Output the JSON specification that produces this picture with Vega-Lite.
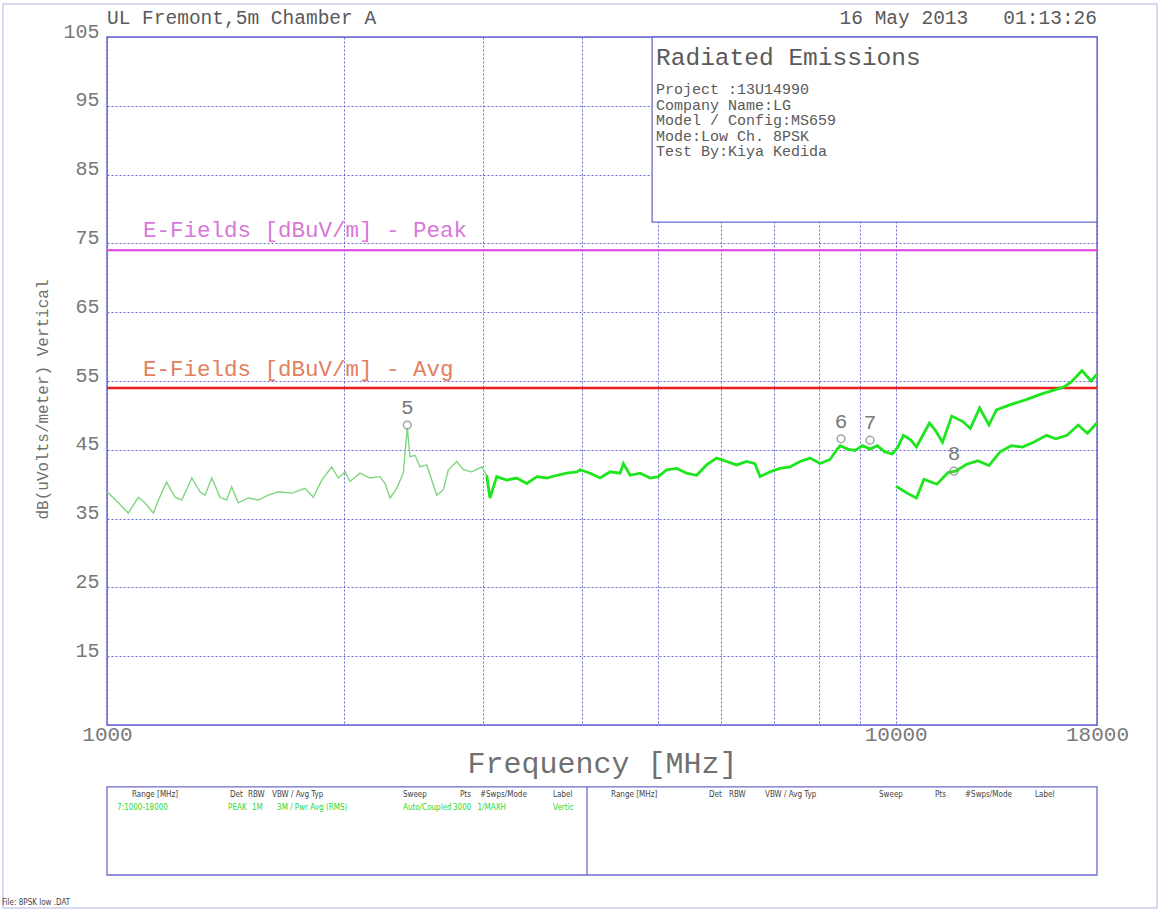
{
  "$schema": "https://vega.github.io/schema/vega-lite/v6.json",
  "autosize": {"type": "none"},
  "padding": {"left": 107, "top": 37, "right": 63, "bottom": 186},
  "width": 990,
  "height": 688,
  "background": "white",
  "data": {"values": [{}]},
  "config": {
    "view": {"stroke": "#6a6ad0", "strokeWidth": 1.5},
    "font": "Liberation Mono",
    "axis": {
      "gridColor": "#5a5ad6", "gridDash": [2, 2], "gridWidth": 1, "gridOpacity": 0.9,
      "ticks": false, "domain": false,
      "labelFont": "Liberation Mono", "titleFont": "Liberation Mono",
      "labelColor": "#787878", "titleColor": "#707070", "titleFontWeight": "normal"
    }
  },
  "datasets": {
    "trace": [
      {"f": 1000, "v": 38.9, "s": "a"}, {"f": 1034, "v": 37.3, "s": "a"}, {"f": 1064, "v": 35.8, "s": "a"},
      {"f": 1096, "v": 38.1, "s": "a"}, {"f": 1117, "v": 37.3, "s": "a"}, {"f": 1145, "v": 35.8, "s": "a"},
      {"f": 1162, "v": 37.7, "s": "a"}, {"f": 1190, "v": 40.3, "s": "a"}, {"f": 1220, "v": 38.1, "s": "a"},
      {"f": 1244, "v": 37.7, "s": "a"}, {"f": 1281, "v": 40.9, "s": "a"}, {"f": 1312, "v": 38.9, "s": "a"},
      {"f": 1331, "v": 38.4, "s": "a"}, {"f": 1358, "v": 40.9, "s": "a"}, {"f": 1391, "v": 38.1, "s": "a"},
      {"f": 1418, "v": 37.7, "s": "a"}, {"f": 1439, "v": 39.6, "s": "a"}, {"f": 1467, "v": 37.3, "s": "a"},
      {"f": 1511, "v": 38.0, "s": "a"}, {"f": 1555, "v": 37.7, "s": "a"}, {"f": 1602, "v": 38.4, "s": "a"},
      {"f": 1649, "v": 38.9, "s": "a"}, {"f": 1715, "v": 38.7, "s": "a"}, {"f": 1783, "v": 39.4, "s": "a"},
      {"f": 1826, "v": 38.1, "s": "a"}, {"f": 1872, "v": 40.6, "s": "a"}, {"f": 1927, "v": 42.5, "s": "a"},
      {"f": 1965, "v": 40.9, "s": "a"}, {"f": 2004, "v": 41.8, "s": "a"}, {"f": 2033, "v": 40.4, "s": "a"},
      {"f": 2093, "v": 41.6, "s": "a"}, {"f": 2155, "v": 40.9, "s": "a"}, {"f": 2219, "v": 41.1, "s": "a"},
      {"f": 2252, "v": 40.1, "s": "a"}, {"f": 2285, "v": 38.0, "s": "a"}, {"f": 2330, "v": 39.4, "s": "a"},
      {"f": 2375, "v": 41.6, "s": "a"}, {"f": 2403, "v": 48.2, "s": "a"}, {"f": 2422, "v": 44.0, "s": "a"},
      {"f": 2458, "v": 44.2, "s": "a"}, {"f": 2494, "v": 42.5, "s": "a"}, {"f": 2543, "v": 42.8, "s": "a"},
      {"f": 2581, "v": 40.6, "s": "a"}, {"f": 2619, "v": 38.4, "s": "a"}, {"f": 2670, "v": 39.2, "s": "a"},
      {"f": 2709, "v": 42.1, "s": "a"}, {"f": 2776, "v": 43.3, "s": "a"}, {"f": 2830, "v": 42.1, "s": "a"},
      {"f": 2900, "v": 41.8, "s": "a"}, {"f": 2986, "v": 42.5, "s": "a"}, {"f": 3030, "v": 41.3, "s": "a"},
      {"f": 3030, "v": 41.3, "s": "b"}, {"f": 3059, "v": 38.0, "s": "b"}, {"f": 3120, "v": 41.1, "s": "b"},
      {"f": 3212, "v": 40.6, "s": "b"}, {"f": 3307, "v": 40.9, "s": "b"}, {"f": 3407, "v": 40.1, "s": "b"},
      {"f": 3508, "v": 41.1, "s": "b"}, {"f": 3611, "v": 40.9, "s": "b"}, {"f": 3718, "v": 41.3, "s": "b"},
      {"f": 3828, "v": 41.6, "s": "b"}, {"f": 3942, "v": 41.8, "s": "b"}, {"f": 3980, "v": 42.1, "s": "b"},
      {"f": 4098, "v": 41.6, "s": "b"}, {"f": 4219, "v": 40.9, "s": "b"}, {"f": 4344, "v": 41.8, "s": "b"},
      {"f": 4473, "v": 41.6, "s": "b"}, {"f": 4516, "v": 43.0, "s": "b"}, {"f": 4606, "v": 41.3, "s": "b"},
      {"f": 4742, "v": 41.6, "s": "b"}, {"f": 4882, "v": 40.9, "s": "b"}, {"f": 5002, "v": 41.1, "s": "b"},
      {"f": 5124, "v": 42.1, "s": "b"}, {"f": 5276, "v": 42.3, "s": "b"}, {"f": 5432, "v": 41.6, "s": "b"},
      {"f": 5593, "v": 41.3, "s": "b"}, {"f": 5758, "v": 42.8, "s": "b"}, {"f": 5929, "v": 43.8, "s": "b"},
      {"f": 6105, "v": 43.3, "s": "b"}, {"f": 6286, "v": 42.8, "s": "b"}, {"f": 6472, "v": 43.3, "s": "b"},
      {"f": 6630, "v": 43.0, "s": "b"}, {"f": 6730, "v": 41.1, "s": "b"}, {"f": 6929, "v": 41.8, "s": "b"},
      {"f": 7135, "v": 42.3, "s": "b"}, {"f": 7346, "v": 42.5, "s": "b"}, {"f": 7564, "v": 43.3, "s": "b"},
      {"f": 7788, "v": 43.8, "s": "b"}, {"f": 8018, "v": 43.0, "s": "b"}, {"f": 8256, "v": 43.6, "s": "b"},
      {"f": 8419, "v": 45.0, "s": "b"}, {"f": 8504, "v": 45.6, "s": "b"}, {"f": 8692, "v": 45.1, "s": "b"},
      {"f": 8882, "v": 44.9, "s": "b"}, {"f": 9078, "v": 45.6, "s": "b"}, {"f": 9279, "v": 45.1, "s": "b"},
      {"f": 9481, "v": 45.6, "s": "b"}, {"f": 9688, "v": 44.7, "s": "b"}, {"f": 9903, "v": 44.4, "s": "b"},
      {"f": 10063, "v": 45.4, "s": "b"}, {"f": 10229, "v": 47.1, "s": "b"}, {"f": 10455, "v": 46.4, "s": "b"},
      {"f": 10624, "v": 45.4, "s": "b"}, {"f": 10800, "v": 46.9, "s": "b"}, {"f": 11036, "v": 48.9, "s": "b"},
      {"f": 11217, "v": 47.9, "s": "b"}, {"f": 11466, "v": 46.1, "s": "b"}, {"f": 11779, "v": 49.9, "s": "b"},
      {"f": 12170, "v": 49.1, "s": "b"}, {"f": 12436, "v": 48.1, "s": "b"}, {"f": 12777, "v": 51.1, "s": "b"},
      {"f": 13129, "v": 48.6, "s": "b"}, {"f": 13419, "v": 50.8, "s": "b"}, {"f": 14013, "v": 51.6, "s": "b"},
      {"f": 14636, "v": 52.3, "s": "b"}, {"f": 15288, "v": 53.1, "s": "b"}, {"f": 15792, "v": 53.6, "s": "b"},
      {"f": 16317, "v": 54.1, "s": "b"}, {"f": 16673, "v": 54.8, "s": "b"}, {"f": 17227, "v": 56.5, "s": "b"},
      {"f": 17697, "v": 55.0, "s": "b"}, {"f": 18000, "v": 56.0, "s": "b"},
      {"f": 10010, "v": 39.7, "s": "c"}, {"f": 10340, "v": 38.7, "s": "c"}, {"f": 10624, "v": 38.0, "s": "c"},
      {"f": 10860, "v": 40.7, "s": "c"}, {"f": 11279, "v": 40.0, "s": "c"}, {"f": 11652, "v": 41.7, "s": "c"},
      {"f": 11910, "v": 41.9, "s": "c"}, {"f": 12302, "v": 42.9, "s": "c"}, {"f": 12711, "v": 43.4, "s": "c"},
      {"f": 13129, "v": 42.7, "s": "c"}, {"f": 13565, "v": 44.7, "s": "c"}, {"f": 14013, "v": 45.6, "s": "c"},
      {"f": 14479, "v": 45.4, "s": "c"}, {"f": 14956, "v": 46.1, "s": "c"}, {"f": 15535, "v": 47.1, "s": "c"},
      {"f": 15964, "v": 46.6, "s": "c"}, {"f": 16494, "v": 47.1, "s": "c"}, {"f": 17037, "v": 48.6, "s": "c"},
      {"f": 17506, "v": 47.4, "s": "c"}, {"f": 18000, "v": 48.9, "s": "c"}
    ],
    "markers": [
      {"f": 2403, "v": 48.6, "n": "5"},
      {"f": 8524, "v": 46.6, "n": "6"},
      {"f": 9279, "v": 46.4, "n": "7"},
      {"f": 11858, "v": 41.9, "n": "8"}
    ]
  },
  "layer": [
    {
      "data": {"name": "trace"},
      "transform": [{"filter": "datum.s === 'a'"}],
      "mark": {"type": "line", "color": "#7fd67f", "strokeWidth": 1.4},
      "encoding": {
        "x": {
          "field": "f", "type": "quantitative",
          "scale": {"type": "log", "domain": [1000, 18000], "nice": false},
          "axis": {
            "values": [1000, 2000, 3000, 4000, 5000, 6000, 7000, 8000, 9000, 10000, 18000],
            "format": "d",
            "labelExpr": "(datum.value == 1000 || datum.value == 10000 || datum.value == 18000) ? datum.label : ''",
            "labelFontSize": 21, "labelBaseline": "top", "labelPadding": -2,
            "labelFlush": false, "labelOverlap": false,
            "title": "Frequency [MHz]", "titleFontSize": 30, "titlePadding": 4
          }
        },
        "y": {
          "field": "v", "type": "quantitative",
          "scale": {"domain": [5, 105], "nice": false, "zero": false},
          "axis": {
            "values": [5, 15, 25, 35, 45, 55, 65, 75, 85, 95, 105],
            "labelExpr": "datum.value == 5 ? '' : datum.label",
            "labelFontSize": 20, "labelBaseline": "alphabetic", "labelPadding": 8,
            "labelFlush": false, "labelOverlap": false,
            "title": "dB(uVolts/meter) Vertical", "titleFontSize": 16, "titlePadding": 12, "titleY": 362
          }
        }
      }
    },
    {
      "mark": {"type": "rect", "fill": null, "stroke": "#b4b4e6", "strokeWidth": 1},
      "encoding": {"x": {"datum": 738}, "x2": {"datum": 21449}, "y": {"datum": 109.8}, "y2": {"datum": -21.6}}
    },
    {
      "mark": {"type": "rect", "fill": "white", "stroke": "#6a6ad0", "strokeWidth": 1.3},
      "encoding": {"x": {"datum": 1000}, "x2": {"datum": 18000}, "y": {"datum": -4.0}, "y2": {"datum": -16.8}}
    },
    {
      "mark": {"type": "rule", "stroke": "#6a6ad0", "strokeWidth": 1.3},
      "encoding": {"x": {"datum": 4061}, "y": {"datum": -4.0}, "y2": {"datum": -16.8}}
    },
    {
      "mark": {"type": "rect", "fill": "white", "stroke": "#6a6ad0", "strokeWidth": 1.3},
      "encoding": {"x": {"datum": 4911}, "x2": {"datum": 18000}, "y": {"datum": 105}, "y2": {"datum": 78.1}}
    },
    {
      "mark": {"type": "rule", "stroke": "#e03ce0", "strokeWidth": 2},
      "encoding": {"y": {"datum": 74}}
    },
    {
      "mark": {"type": "rule", "stroke": "#ee1c1c", "strokeWidth": 2.5},
      "encoding": {"y": {"datum": 54}}
    },
    {
      "data": {"name": "trace"},
      "transform": [{"filter": "datum.s !== 'a'"}],
      "mark": {"type": "line", "color": "#1ee61e", "strokeWidth": 2.8},
      "encoding": {
        "x": {"field": "f", "type": "quantitative"},
        "y": {"field": "v", "type": "quantitative"},
        "detail": {"field": "s"}
      }
    },
    {
      "data": {"name": "markers"},
      "mark": {"type": "point", "shape": "circle", "filled": false, "stroke": "#808080", "strokeWidth": 1.5, "size": 60},
      "encoding": {"x": {"field": "f", "type": "quantitative"}, "y": {"field": "v", "type": "quantitative"}}
    },
    {
      "data": {"name": "markers"},
      "mark": {"type": "text", "font": "Liberation Mono", "fontSize": 21, "color": "#7a7a7a", "baseline": "middle", "dy": -17},
      "encoding": {"x": {"field": "f", "type": "quantitative"}, "y": {"field": "v", "type": "quantitative"}, "text": {"field": "n"}}
    },
    {
      "mark": {"type": "text", "align": "left", "baseline": "alphabetic", "fontSize": 22.5, "color": "#d878d8"},
      "encoding": {"x": {"datum": 1111}, "y": {"datum": 75.9}, "text": {"value": "E-Fields [dBuV/m] - Peak"}}
    },
    {
      "mark": {"type": "text", "align": "left", "baseline": "alphabetic", "fontSize": 22.5, "color": "#e2805e"},
      "encoding": {"x": {"datum": 1111}, "y": {"datum": 55.7}, "text": {"value": "E-Fields [dBuV/m] - Avg"}}
    },
    {
      "mark": {"type": "text", "align": "left", "baseline": "middle", "fontSize": 19.5, "color": "#5a5a5a"},
      "encoding": {"x": {"datum": 1000}, "y": {"datum": 107.76}, "text": {"value": "UL Fremont,5m Chamber A"}}
    },
    {
      "mark": {"type": "text", "align": "right", "baseline": "middle", "fontSize": 19.5, "color": "#5a5a5a"},
      "encoding": {"x": {"datum": 18000}, "y": {"datum": 107.76}, "text": {"value": "16 May 2013\u00a0\u00a0\u00a001:13:26"}}
    },
    {
      "mark": {"type": "text", "align": "left", "baseline": "middle", "fontSize": 24.5, "color": "#5a5a5a"},
      "encoding": {"x": {"datum": 4968}, "y": {"datum": 101.95}, "text": {"value": "Radiated Emissions"}}
    },
    {
      "mark": {"type": "text", "align": "left", "baseline": "top", "fontSize": 15, "lineHeight": 15.5, "lineBreak": "\n", "color": "#5a5a5a"},
      "encoding": {"x": {"datum": 4968}, "y": {"datum": 98.4}, "text": {"value": "Project :13U14990\nCompany Name:LG\nModel / Config:MS659\nMode:Low Ch. 8PSK\nTest By:Kiya Kedida"}}
    },
    {
      "mark": {"type": "text", "align": "left", "baseline": "middle", "font": "Liberation Sans Narrow, DejaVu Sans Condensed, sans-serif", "fontSize": 8, "color": "#444"},
      "encoding": {"x": {"datum": 1075.7}, "y": {"datum": -5.17}, "text": {"value": "Range [MHz]"}}
    },
    {
      "mark": {"type": "text", "align": "left", "baseline": "middle", "font": "Liberation Sans Narrow, DejaVu Sans Condensed, sans-serif", "fontSize": 8, "color": "#444"},
      "encoding": {"x": {"datum": 1432}, "y": {"datum": -5.17}, "text": {"value": "Det"}}
    },
    {
      "mark": {"type": "text", "align": "left", "baseline": "middle", "font": "Liberation Sans Narrow, DejaVu Sans Condensed, sans-serif", "fontSize": 8, "color": "#444"},
      "encoding": {"x": {"datum": 1509}, "y": {"datum": -5.17}, "text": {"value": "RBW"}}
    },
    {
      "mark": {"type": "text", "align": "left", "baseline": "middle", "font": "Liberation Sans Narrow, DejaVu Sans Condensed, sans-serif", "fontSize": 8, "color": "#444"},
      "encoding": {"x": {"datum": 1619}, "y": {"datum": -5.17}, "text": {"value": "VBW / Avg Typ"}}
    },
    {
      "mark": {"type": "text", "align": "left", "baseline": "middle", "font": "Liberation Sans Narrow, DejaVu Sans Condensed, sans-serif", "fontSize": 8, "color": "#444"},
      "encoding": {"x": {"datum": 2373}, "y": {"datum": -5.17}, "text": {"value": "Sweep"}}
    },
    {
      "mark": {"type": "text", "align": "left", "baseline": "middle", "font": "Liberation Sans Narrow, DejaVu Sans Condensed, sans-serif", "fontSize": 8, "color": "#444"},
      "encoding": {"x": {"datum": 2803}, "y": {"datum": -5.17}, "text": {"value": "Pts"}}
    },
    {
      "mark": {"type": "text", "align": "left", "baseline": "middle", "font": "Liberation Sans Narrow, DejaVu Sans Condensed, sans-serif", "fontSize": 8, "color": "#444"},
      "encoding": {"x": {"datum": 2971}, "y": {"datum": -5.17}, "text": {"value": "#Swps/Mode"}}
    },
    {
      "mark": {"type": "text", "align": "left", "baseline": "middle", "font": "Liberation Sans Narrow, DejaVu Sans Condensed, sans-serif", "fontSize": 8, "color": "#444"},
      "encoding": {"x": {"datum": 3678}, "y": {"datum": -5.17}, "text": {"value": "Label"}}
    },
    {
      "mark": {"type": "text", "align": "left", "baseline": "middle", "font": "Liberation Sans Narrow, DejaVu Sans Condensed, sans-serif", "fontSize": 8, "color": "#2ed82e"},
      "encoding": {"x": {"datum": 1030}, "y": {"datum": -7.06}, "text": {"value": "7:1000-18000"}}
    },
    {
      "mark": {"type": "text", "align": "left", "baseline": "middle", "font": "Liberation Sans Narrow, DejaVu Sans Condensed, sans-serif", "fontSize": 8, "color": "#2ed82e"},
      "encoding": {"x": {"datum": 1424}, "y": {"datum": -7.06}, "text": {"value": "PEAK"}}
    },
    {
      "mark": {"type": "text", "align": "left", "baseline": "middle", "font": "Liberation Sans Narrow, DejaVu Sans Condensed, sans-serif", "fontSize": 8, "color": "#2ed82e"},
      "encoding": {"x": {"datum": 1527}, "y": {"datum": -7.06}, "text": {"value": "1M"}}
    },
    {
      "mark": {"type": "text", "align": "left", "baseline": "middle", "font": "Liberation Sans Narrow, DejaVu Sans Condensed, sans-serif", "fontSize": 8, "color": "#2ed82e"},
      "encoding": {"x": {"datum": 1643}, "y": {"datum": -7.06}, "text": {"value": "3M / Pwr Avg (RMS)"}}
    },
    {
      "mark": {"type": "text", "align": "left", "baseline": "middle", "font": "Liberation Sans Narrow, DejaVu Sans Condensed, sans-serif", "fontSize": 8, "color": "#2ed82e"},
      "encoding": {"x": {"datum": 2373}, "y": {"datum": -7.06}, "text": {"value": "Auto/Coupled"}}
    },
    {
      "mark": {"type": "text", "align": "left", "baseline": "middle", "font": "Liberation Sans Narrow, DejaVu Sans Condensed, sans-serif", "fontSize": 8, "color": "#2ed82e"},
      "encoding": {"x": {"datum": 2746}, "y": {"datum": -7.06}, "text": {"value": "3000"}}
    },
    {
      "mark": {"type": "text", "align": "left", "baseline": "middle", "font": "Liberation Sans Narrow, DejaVu Sans Condensed, sans-serif", "fontSize": 8, "color": "#2ed82e"},
      "encoding": {"x": {"datum": 2950}, "y": {"datum": -7.06}, "text": {"value": "1/MAXH"}}
    },
    {
      "mark": {"type": "text", "align": "left", "baseline": "middle", "font": "Liberation Sans Narrow, DejaVu Sans Condensed, sans-serif", "fontSize": 8, "color": "#2ed82e"},
      "encoding": {"x": {"datum": 3678}, "y": {"datum": -7.06}, "text": {"value": "Vertic"}}
    },
    {
      "mark": {"type": "text", "align": "left", "baseline": "middle", "font": "Liberation Sans Narrow, DejaVu Sans Condensed, sans-serif", "fontSize": 8, "color": "#444"},
      "encoding": {"x": {"datum": 4357}, "y": {"datum": -5.17}, "text": {"value": "Range [MHz]"}}
    },
    {
      "mark": {"type": "text", "align": "left", "baseline": "middle", "font": "Liberation Sans Narrow, DejaVu Sans Condensed, sans-serif", "fontSize": 8, "color": "#444"},
      "encoding": {"x": {"datum": 5797}, "y": {"datum": -5.17}, "text": {"value": "Det"}}
    },
    {
      "mark": {"type": "text", "align": "left", "baseline": "middle", "font": "Liberation Sans Narrow, DejaVu Sans Condensed, sans-serif", "fontSize": 8, "color": "#444"},
      "encoding": {"x": {"datum": 6146}, "y": {"datum": -5.17}, "text": {"value": "RBW"}}
    },
    {
      "mark": {"type": "text", "align": "left", "baseline": "middle", "font": "Liberation Sans Narrow, DejaVu Sans Condensed, sans-serif", "fontSize": 8, "color": "#444"},
      "encoding": {"x": {"datum": 6829}, "y": {"datum": -5.17}, "text": {"value": "VBW / Avg Typ"}}
    },
    {
      "mark": {"type": "text", "align": "left", "baseline": "middle", "font": "Liberation Sans Narrow, DejaVu Sans Condensed, sans-serif", "fontSize": 8, "color": "#444"},
      "encoding": {"x": {"datum": 9526}, "y": {"datum": -5.17}, "text": {"value": "Sweep"}}
    },
    {
      "mark": {"type": "text", "align": "left", "baseline": "middle", "font": "Liberation Sans Narrow, DejaVu Sans Condensed, sans-serif", "fontSize": 8, "color": "#444"},
      "encoding": {"x": {"datum": 11217}, "y": {"datum": -5.17}, "text": {"value": "Pts"}}
    },
    {
      "mark": {"type": "text", "align": "left", "baseline": "middle", "font": "Liberation Sans Narrow, DejaVu Sans Condensed, sans-serif", "fontSize": 8, "color": "#444"},
      "encoding": {"x": {"datum": 12245}, "y": {"datum": -5.17}, "text": {"value": "#Swps/Mode"}}
    },
    {
      "mark": {"type": "text", "align": "left", "baseline": "middle", "font": "Liberation Sans Narrow, DejaVu Sans Condensed, sans-serif", "fontSize": 8, "color": "#444"},
      "encoding": {"x": {"datum": 15021}, "y": {"datum": -5.17}, "text": {"value": "Label"}}
    },
    {
      "mark": {"type": "text", "align": "left", "baseline": "middle", "font": "Liberation Sans Narrow, DejaVu Sans Condensed, sans-serif", "fontSize": 8, "color": "#444"},
      "encoding": {"x": {"datum": 736}, "y": {"datum": -20.9}, "text": {"value": "File: 8PSK low .DAT"}}
    }
  ]
}
